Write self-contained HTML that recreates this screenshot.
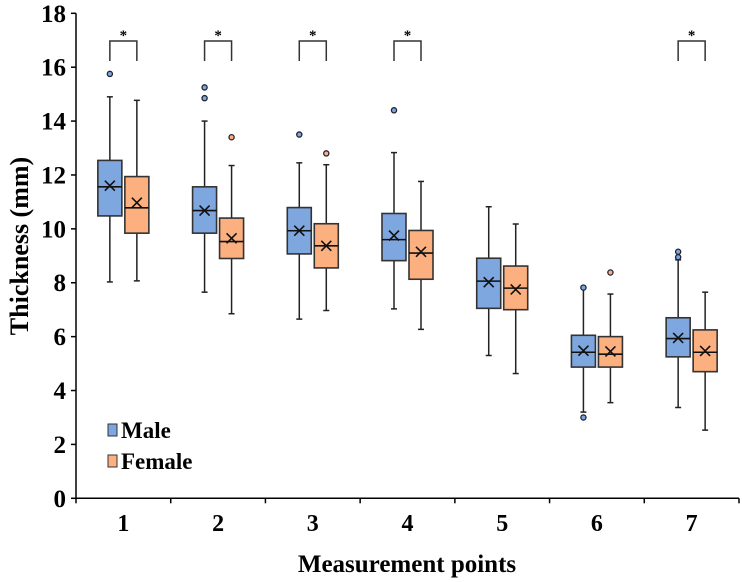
<!DOCTYPE html>
<html><head><meta charset="utf-8"><style>
body{margin:0;background:#fff}
svg{display:block}
text{font-family:"Liberation Serif",serif;font-weight:bold;fill:#000}
</style></head><body>
<svg id="chart" width="742" height="582" viewBox="0 0 742 582" xmlns="http://www.w3.org/2000/svg"></svg>
<script>
const categories=["1","2","3","4","5","6","7"];
const yTicks=[0,2,4,6,8,10,12,14,16,18];
// [min, q1, median, q3, max, mean]
const maleStats=[[8.03,10.48,11.56,12.54,14.9,11.6],[7.65,9.84,10.68,11.56,14.0,10.68],[6.65,9.07,9.93,10.79,12.45,9.93],[7.03,8.82,9.6,10.57,12.83,9.75],[5.3,7.05,8.06,8.91,10.82,8.02],[3.2,4.87,5.42,6.05,7.8,5.48],[3.37,5.25,5.93,6.7,8.85,5.95]];
const femaleStats=[[8.07,9.84,10.78,11.94,14.77,10.97],[6.85,8.9,9.53,10.4,12.35,9.65],[6.97,8.55,9.37,10.19,12.38,9.37],[6.27,8.13,9.1,9.94,11.76,9.15],[4.63,7.0,7.8,8.62,10.18,7.75],[3.55,4.87,5.35,6.0,7.58,5.45],[2.53,4.7,5.42,6.25,7.65,5.47]];
const maleOutliers=[[15.75],[15.25,14.85],[13.5],[14.4],[],[7.82,3.0],[9.15,8.95]];
const femaleOutliers=[[],[13.4],[12.8],[],[],[8.38],[]];
const significant=[true,true,true,true,false,false,true];

const NS="http://www.w3.org/2000/svg";
const svg=document.getElementById('chart');
const X0=76,X1=739,Y0=498.3,Y1=13.3,YMAX=18;
const y=v=>Y0-(v/YMAX)*(Y0-Y1);
const band=(X1-X0)/categories.length;
const xc=i=>X0+band*(i+0.5);
function mk(tag,attrs,parent){const e=document.createElementNS(NS,tag);for(const k in attrs)e.setAttribute(k,attrs[k]);(parent||svg).appendChild(e);return e;}

let ax=mk('line',{x1:X0,y1:Y1,x2:X0,y2:Y0,stroke:'#000','stroke-width':1.5});


let bx=mk('line',{x1:X0,y1:Y0,x2:X1,y2:Y0,stroke:'#000','stroke-width':1.5});


yTicks.forEach(t=>{
  mk('line',{x1:X0-5,y1:y(t),x2:X0,y2:y(t),stroke:'#000','stroke-width':1.5});
  const tx=mk('text',{x:66,y:y(t)+8.5,'text-anchor':'end','font-size':25});
  tx.textContent=t;
  
  
});
for(let i=0;i<=categories.length;i++){mk('line',{x1:X0+band*i,y1:Y0,x2:X0+band*i,y2:Y0+5,stroke:'#000','stroke-width':1.5});}
categories.forEach((c,i)=>{
  const tx=mk('text',{x:xc(i),y:531,'text-anchor':'middle','font-size':24});
  tx.textContent=c;
  
  
});
const xt=mk('text',{x:407,y:572,'text-anchor':'middle','font-size':25});
xt.textContent='Measurement points';


const yt=mk('text',{x:0,y:0,'text-anchor':'middle','font-size':26,transform:'translate(28,246) rotate(-90)'});
yt.textContent='Thickness (mm)';



function drawBox(cx,s,outs,fill,name){
  const g=mk('g',{});
  
  
  const w=24;
  mk('line',{x1:cx,y1:y(s[0]),x2:cx,y2:y(s[1]),stroke:'#222','stroke-width':1.5},g);
  mk('line',{x1:cx,y1:y(s[3]),x2:cx,y2:y(s[4]),stroke:'#222','stroke-width':1.5},g);
  mk('line',{x1:cx-3,y1:y(s[0]),x2:cx+3,y2:y(s[0]),stroke:'#222','stroke-width':1.5},g);
  mk('line',{x1:cx-3,y1:y(s[4]),x2:cx+3,y2:y(s[4]),stroke:'#222','stroke-width':1.5},g);
  mk('rect',{x:cx-w/2,y:y(s[3]),width:w,height:y(s[1])-y(s[3]),fill:fill,stroke:'#333','stroke-width':1.6},g);
  mk('line',{x1:cx-w/2,y1:y(s[2]),x2:cx+w/2,y2:y(s[2]),stroke:'#111','stroke-width':1.6},g);
  const my=y(s[5]);
  mk('path',{d:`M${cx-5} ${my-5}L${cx+5} ${my+5}M${cx+5} ${my-5}L${cx-5} ${my+5}`,stroke:'#111','stroke-width':1.6},g);
  outs.forEach(o=>{const c=mk('circle',{cx:cx,cy:y(o),r:2.6,fill:fill,stroke:'#223','stroke-width':1.3},g);
    
    });
}
categories.forEach((c,i)=>{
  drawBox(xc(i)-13.5,maleStats[i],maleOutliers[i],'#7ea6df','box-male-'+c);
  drawBox(xc(i)+13.5,femaleStats[i],femaleOutliers[i],'#fdb07f','box-female-'+c);
  if(significant[i]){
    const g=mk('g',{});
    
    
    mk('path',{d:`M${xc(i)-13.5} 61V41H${xc(i)+13.5}V61`,fill:'none',stroke:'#333','stroke-width':1.5},g);
    const st=mk('text',{x:xc(i),y:40,'text-anchor':'middle','font-size':15,'font-weight':'normal'},g);
    st.textContent='*';
  }
});
[['Male','#7ea6df',438],['Female','#fdb07f',469]].forEach(([n,f,ly])=>{
  const g=mk('g',{});
  
  
  mk('rect',{x:108,y:ly-14,width:9,height:12,fill:f,stroke:'#333','stroke-width':1},g);
  const t=mk('text',{x:121,y:ly,'font-size':23},g);
  t.textContent=n;
});
</script>
</body></html>
